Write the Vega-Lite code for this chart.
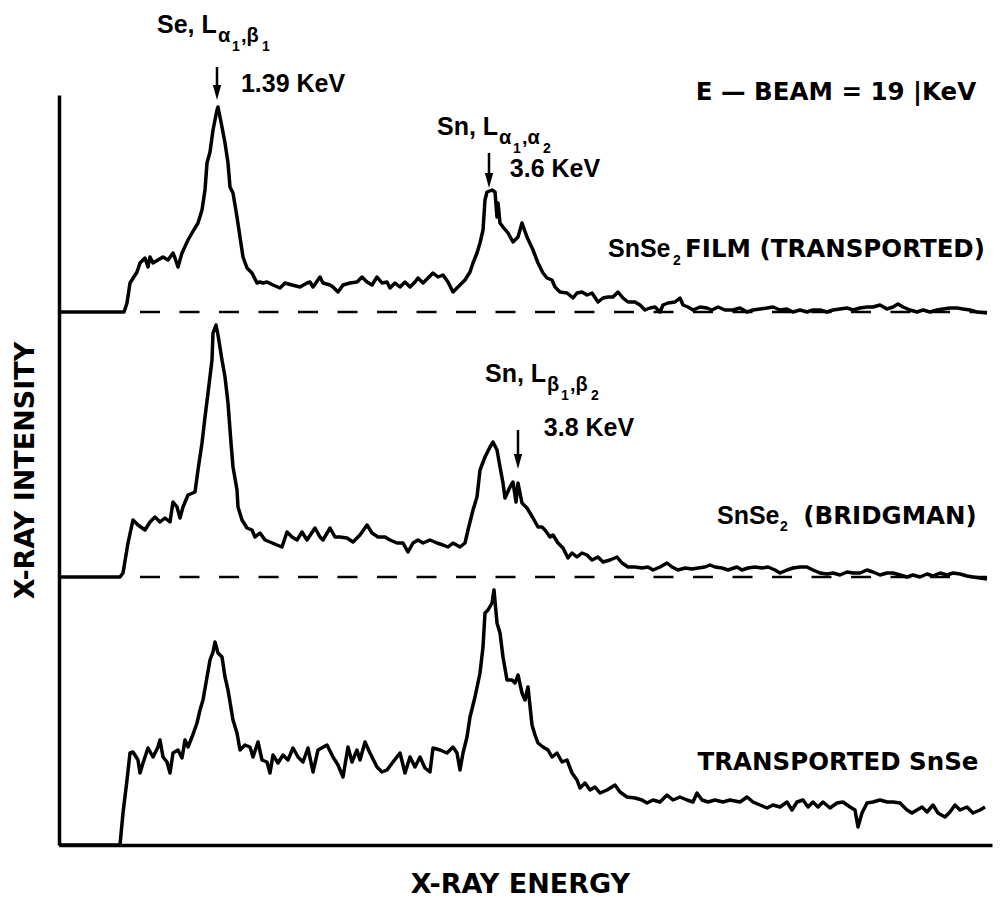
{
"$schema": "https://vega.github.io/schema/vega-lite/v6.json",
"width": 933, "height": 750,
"autosize": "none",
"padding": {"left": 59, "top": 95, "right": 8, "bottom": 53},
"background": "white",
"config": {"view": {"stroke": null}, "font": "Liberation Sans"},
"datasets": {
"spectra": [
{"series":"film","energy":59,"intensity":533},{"series":"film","energy":124,"intensity":533},{"series":"film","energy":127,"intensity":542},{"series":"film","energy":130,"intensity":562},{"series":"film","energy":137,"intensity":573},{"series":"film","energy":140,"intensity":582},{"series":"film","energy":145,"intensity":587},{"series":"film","energy":148,"intensity":578},{"series":"film","energy":150,"intensity":588},{"series":"film","energy":153,"intensity":582},{"series":"film","energy":158,"intensity":585},{"series":"film","energy":163,"intensity":588},{"series":"film","energy":168,"intensity":585},{"series":"film","energy":173,"intensity":592},{"series":"film","energy":175,"intensity":587},{"series":"film","energy":178,"intensity":578},{"series":"film","energy":182,"intensity":592},{"series":"film","energy":188,"intensity":605},{"series":"film","energy":192,"intensity":612},{"series":"film","energy":198,"intensity":622},{"series":"film","energy":202,"intensity":635},{"series":"film","energy":205,"intensity":655},{"series":"film","energy":207,"intensity":682},{"series":"film","energy":210,"intensity":693},{"series":"film","energy":213,"intensity":715},{"series":"film","energy":217,"intensity":735},{"series":"film","energy":218,"intensity":738},{"series":"film","energy":222,"intensity":718},{"series":"film","energy":225,"intensity":702},{"series":"film","energy":228,"intensity":682},{"series":"film","energy":230,"intensity":658},{"series":"film","energy":233,"intensity":652},{"series":"film","energy":237,"intensity":628},{"series":"film","energy":240,"intensity":608},{"series":"film","energy":243,"intensity":588},{"series":"film","energy":247,"intensity":577},{"series":"film","energy":252,"intensity":572},{"series":"film","energy":257,"intensity":562},{"series":"film","energy":260,"intensity":563},{"series":"film","energy":263,"intensity":562},{"series":"film","energy":267,"intensity":563},{"series":"film","energy":273,"intensity":560},{"series":"film","energy":280,"intensity":557},{"series":"film","energy":285,"intensity":562},{"series":"film","energy":292,"intensity":560},{"series":"film","energy":300,"intensity":558},{"series":"film","energy":307,"intensity":562},{"series":"film","energy":310,"intensity":563},{"series":"film","energy":313,"intensity":558},{"series":"film","energy":320,"intensity":568},{"series":"film","energy":323,"intensity":562},{"series":"film","energy":330,"intensity":560},{"series":"film","energy":333,"intensity":558},{"series":"film","energy":338,"intensity":553},{"series":"film","energy":343,"intensity":560},{"series":"film","energy":350,"intensity":562},{"series":"film","energy":357,"intensity":563},{"series":"film","energy":362,"intensity":568},{"series":"film","energy":367,"intensity":563},{"series":"film","energy":372,"intensity":560},{"series":"film","energy":377,"intensity":568},{"series":"film","energy":382,"intensity":562},{"series":"film","energy":387,"intensity":563},{"series":"film","energy":390,"intensity":557},{"series":"film","energy":395,"intensity":562},{"series":"film","energy":400,"intensity":558},{"series":"film","energy":405,"intensity":563},{"series":"film","energy":410,"intensity":558},{"series":"film","energy":415,"intensity":563},{"series":"film","energy":418,"intensity":567},{"series":"film","energy":423,"intensity":562},{"series":"film","energy":428,"intensity":567},{"series":"film","energy":433,"intensity":572},{"series":"film","energy":438,"intensity":568},{"series":"film","energy":443,"intensity":570},{"series":"film","energy":448,"intensity":563},{"series":"film","energy":453,"intensity":553},{"series":"film","energy":458,"intensity":558},{"series":"film","energy":465,"intensity":565},{"series":"film","energy":470,"intensity":573},{"series":"film","energy":473,"intensity":582},{"series":"film","energy":477,"intensity":592},{"series":"film","energy":480,"intensity":602},{"series":"film","energy":483,"intensity":615},{"series":"film","energy":485,"intensity":645},{"series":"film","energy":487,"intensity":653},{"series":"film","energy":492,"intensity":655},{"series":"film","energy":495,"intensity":653},{"series":"film","energy":497,"intensity":628},{"series":"film","energy":498,"intensity":642},{"series":"film","energy":500,"intensity":622},{"series":"film","energy":503,"intensity":618},{"series":"film","energy":508,"intensity":612},{"series":"film","energy":513,"intensity":603},{"series":"film","energy":518,"intensity":608},{"series":"film","energy":522,"intensity":622},{"series":"film","energy":527,"intensity":608},{"series":"film","energy":533,"intensity":595},{"series":"film","energy":538,"intensity":582},{"series":"film","energy":543,"intensity":572},{"series":"film","energy":547,"intensity":567},{"series":"film","energy":552,"intensity":565},{"series":"film","energy":555,"intensity":558},{"series":"film","energy":560,"intensity":553},{"series":"film","energy":567,"intensity":552},{"series":"film","energy":573,"intensity":547},{"series":"film","energy":577,"intensity":552},{"series":"film","energy":582,"intensity":553},{"series":"film","energy":587,"intensity":550},{"series":"film","energy":592,"intensity":552},{"series":"film","energy":598,"intensity":543},{"series":"film","energy":603,"intensity":547},{"series":"film","energy":608,"intensity":548},{"series":"film","energy":613,"intensity":548},{"series":"film","energy":618,"intensity":553},{"series":"film","energy":623,"intensity":547},{"series":"film","energy":628,"intensity":543},{"series":"film","energy":635,"intensity":543},{"series":"film","energy":640,"intensity":540},{"series":"film","energy":645,"intensity":535},{"series":"film","energy":650,"intensity":537},{"series":"film","energy":655,"intensity":538},{"series":"film","energy":660,"intensity":533},{"series":"film","energy":663,"intensity":540},{"series":"film","energy":668,"intensity":542},{"series":"film","energy":675,"intensity":543},{"series":"film","energy":680,"intensity":547},{"series":"film","energy":683,"intensity":540},{"series":"film","energy":688,"intensity":538},{"series":"film","energy":693,"intensity":535},{"series":"film","energy":700,"intensity":538},{"series":"film","energy":707,"intensity":537},{"series":"film","energy":712,"intensity":535},{"series":"film","energy":718,"intensity":538},{"series":"film","energy":725,"intensity":535},{"series":"film","energy":733,"intensity":535},{"series":"film","energy":740,"intensity":537},{"series":"film","energy":747,"intensity":533},{"series":"film","energy":753,"intensity":535},{"series":"film","energy":760,"intensity":536},{"series":"film","energy":767,"intensity":537},{"series":"film","energy":773,"intensity":538},{"series":"film","energy":780,"intensity":535},{"series":"film","energy":787,"intensity":536},{"series":"film","energy":793,"intensity":533},{"series":"film","energy":800,"intensity":535},{"series":"film","energy":807,"intensity":533},{"series":"film","energy":813,"intensity":535},{"series":"film","energy":820,"intensity":535},{"series":"film","energy":827,"intensity":533},{"series":"film","energy":833,"intensity":535},{"series":"film","energy":840,"intensity":536},{"series":"film","energy":847,"intensity":537},{"series":"film","energy":853,"intensity":535},{"series":"film","energy":860,"intensity":537},{"series":"film","energy":867,"intensity":538},{"series":"film","energy":873,"intensity":538},{"series":"film","energy":880,"intensity":540},{"series":"film","energy":887,"intensity":536},{"series":"film","energy":893,"intensity":538},{"series":"film","energy":898,"intensity":541},{"series":"film","energy":903,"intensity":538},{"series":"film","energy":910,"intensity":535},{"series":"film","energy":917,"intensity":533},{"series":"film","energy":923,"intensity":535},{"series":"film","energy":930,"intensity":533},{"series":"film","energy":937,"intensity":535},{"series":"film","energy":943,"intensity":536},{"series":"film","energy":950,"intensity":537},{"series":"film","energy":957,"intensity":537},{"series":"film","energy":963,"intensity":536},{"series":"film","energy":970,"intensity":535},{"series":"film","energy":977,"intensity":533},{"series":"film","energy":987,"intensity":532},
{"series":"bridgman","energy":59,"intensity":268},{"series":"bridgman","energy":120,"intensity":268},{"series":"bridgman","energy":123,"intensity":272},{"series":"bridgman","energy":128,"intensity":302},{"series":"bridgman","energy":133,"intensity":325},{"series":"bridgman","energy":138,"intensity":320},{"series":"bridgman","energy":145,"intensity":315},{"series":"bridgman","energy":150,"intensity":323},{"series":"bridgman","energy":155,"intensity":328},{"series":"bridgman","energy":160,"intensity":323},{"series":"bridgman","energy":165,"intensity":327},{"series":"bridgman","energy":170,"intensity":323},{"series":"bridgman","energy":173,"intensity":343},{"series":"bridgman","energy":177,"intensity":338},{"series":"bridgman","energy":180,"intensity":327},{"series":"bridgman","energy":183,"intensity":338},{"series":"bridgman","energy":188,"intensity":350},{"series":"bridgman","energy":195,"intensity":353},{"series":"bridgman","energy":198,"intensity":375},{"series":"bridgman","energy":202,"intensity":402},{"series":"bridgman","energy":205,"intensity":428},{"series":"bridgman","energy":208,"intensity":452},{"series":"bridgman","energy":212,"intensity":485},{"series":"bridgman","energy":213,"intensity":512},{"series":"bridgman","energy":216,"intensity":520},{"series":"bridgman","energy":218,"intensity":510},{"series":"bridgman","energy":222,"intensity":485},{"series":"bridgman","energy":225,"intensity":468},{"series":"bridgman","energy":228,"intensity":442},{"series":"bridgman","energy":231,"intensity":402},{"series":"bridgman","energy":233,"intensity":378},{"series":"bridgman","energy":237,"intensity":355},{"series":"bridgman","energy":238,"intensity":338},{"series":"bridgman","energy":242,"intensity":325},{"series":"bridgman","energy":247,"intensity":317},{"series":"bridgman","energy":252,"intensity":315},{"series":"bridgman","energy":255,"intensity":308},{"series":"bridgman","energy":260,"intensity":312},{"series":"bridgman","energy":265,"intensity":305},{"series":"bridgman","energy":270,"intensity":303},{"series":"bridgman","energy":277,"intensity":300},{"series":"bridgman","energy":282,"intensity":298},{"series":"bridgman","energy":287,"intensity":313},{"series":"bridgman","energy":292,"intensity":308},{"series":"bridgman","energy":297,"intensity":305},{"series":"bridgman","energy":302,"intensity":313},{"series":"bridgman","energy":307,"intensity":305},{"series":"bridgman","energy":315,"intensity":317},{"series":"bridgman","energy":320,"intensity":308},{"series":"bridgman","energy":323,"intensity":305},{"series":"bridgman","energy":330,"intensity":317},{"series":"bridgman","energy":335,"intensity":308},{"series":"bridgman","energy":340,"intensity":308},{"series":"bridgman","energy":347,"intensity":307},{"series":"bridgman","energy":353,"intensity":303},{"series":"bridgman","energy":360,"intensity":310},{"series":"bridgman","energy":367,"intensity":320},{"series":"bridgman","energy":372,"intensity":312},{"series":"bridgman","energy":378,"intensity":308},{"series":"bridgman","energy":385,"intensity":308},{"series":"bridgman","energy":390,"intensity":305},{"series":"bridgman","energy":397,"intensity":302},{"series":"bridgman","energy":403,"intensity":302},{"series":"bridgman","energy":408,"intensity":293},{"series":"bridgman","energy":413,"intensity":302},{"series":"bridgman","energy":418,"intensity":305},{"series":"bridgman","energy":423,"intensity":302},{"series":"bridgman","energy":430,"intensity":305},{"series":"bridgman","energy":437,"intensity":302},{"series":"bridgman","energy":443,"intensity":300},{"series":"bridgman","energy":448,"intensity":298},{"series":"bridgman","energy":453,"intensity":302},{"series":"bridgman","energy":460,"intensity":298},{"series":"bridgman","energy":465,"intensity":302},{"series":"bridgman","energy":468,"intensity":315},{"series":"bridgman","energy":473,"intensity":335},{"series":"bridgman","energy":477,"intensity":348},{"series":"bridgman","energy":480,"intensity":375},{"series":"bridgman","energy":485,"intensity":388},{"series":"bridgman","energy":490,"intensity":398},{"series":"bridgman","energy":493,"intensity":403},{"series":"bridgman","energy":497,"intensity":395},{"series":"bridgman","energy":500,"intensity":378},{"series":"bridgman","energy":503,"intensity":362},{"series":"bridgman","energy":505,"intensity":347},{"series":"bridgman","energy":510,"intensity":358},{"series":"bridgman","energy":513,"intensity":363},{"series":"bridgman","energy":516,"intensity":343},{"series":"bridgman","energy":518,"intensity":362},{"series":"bridgman","energy":522,"intensity":342},{"series":"bridgman","energy":527,"intensity":337},{"series":"bridgman","energy":533,"intensity":327},{"series":"bridgman","energy":538,"intensity":318},{"series":"bridgman","energy":542,"intensity":318},{"series":"bridgman","energy":545,"intensity":315},{"series":"bridgman","energy":550,"intensity":308},{"series":"bridgman","energy":553,"intensity":310},{"series":"bridgman","energy":558,"intensity":302},{"series":"bridgman","energy":563,"intensity":297},{"series":"bridgman","energy":568,"intensity":287},{"series":"bridgman","energy":572,"intensity":292},{"series":"bridgman","energy":577,"intensity":288},{"series":"bridgman","energy":582,"intensity":292},{"series":"bridgman","energy":587,"intensity":290},{"series":"bridgman","energy":592,"intensity":285},{"series":"bridgman","energy":598,"intensity":288},{"series":"bridgman","energy":603,"intensity":283},{"series":"bridgman","energy":610,"intensity":285},{"series":"bridgman","energy":617,"intensity":288},{"series":"bridgman","energy":622,"intensity":282},{"series":"bridgman","energy":628,"intensity":278},{"series":"bridgman","energy":635,"intensity":278},{"series":"bridgman","energy":642,"intensity":277},{"series":"bridgman","energy":648,"intensity":278},{"series":"bridgman","energy":653,"intensity":275},{"series":"bridgman","energy":660,"intensity":278},{"series":"bridgman","energy":667,"intensity":282},{"series":"bridgman","energy":672,"intensity":278},{"series":"bridgman","energy":678,"intensity":275},{"series":"bridgman","energy":685,"intensity":277},{"series":"bridgman","energy":692,"intensity":276},{"series":"bridgman","energy":698,"intensity":277},{"series":"bridgman","energy":705,"intensity":278},{"series":"bridgman","energy":710,"intensity":280},{"series":"bridgman","energy":715,"intensity":278},{"series":"bridgman","energy":722,"intensity":277},{"series":"bridgman","energy":728,"intensity":275},{"series":"bridgman","energy":737,"intensity":278},{"series":"bridgman","energy":742,"intensity":275},{"series":"bridgman","energy":748,"intensity":277},{"series":"bridgman","energy":755,"intensity":278},{"series":"bridgman","energy":762,"intensity":277},{"series":"bridgman","energy":768,"intensity":278},{"series":"bridgman","energy":775,"intensity":275},{"series":"bridgman","energy":780,"intensity":272},{"series":"bridgman","energy":787,"intensity":275},{"series":"bridgman","energy":793,"intensity":277},{"series":"bridgman","energy":800,"intensity":278},{"series":"bridgman","energy":807,"intensity":278},{"series":"bridgman","energy":813,"intensity":275},{"series":"bridgman","energy":820,"intensity":272},{"series":"bridgman","energy":827,"intensity":271},{"series":"bridgman","energy":833,"intensity":272},{"series":"bridgman","energy":840,"intensity":270},{"series":"bridgman","energy":847,"intensity":273},{"series":"bridgman","energy":853,"intensity":272},{"series":"bridgman","energy":860,"intensity":272},{"series":"bridgman","energy":867,"intensity":275},{"series":"bridgman","energy":873,"intensity":273},{"series":"bridgman","energy":880,"intensity":270},{"series":"bridgman","energy":887,"intensity":272},{"series":"bridgman","energy":893,"intensity":272},{"series":"bridgman","energy":900,"intensity":270},{"series":"bridgman","energy":907,"intensity":268},{"series":"bridgman","energy":913,"intensity":270},{"series":"bridgman","energy":920,"intensity":268},{"series":"bridgman","energy":927,"intensity":271},{"series":"bridgman","energy":933,"intensity":269},{"series":"bridgman","energy":940,"intensity":272},{"series":"bridgman","energy":947,"intensity":270},{"series":"bridgman","energy":953,"intensity":272},{"series":"bridgman","energy":960,"intensity":271},{"series":"bridgman","energy":967,"intensity":269},{"series":"bridgman","energy":973,"intensity":268},{"series":"bridgman","energy":980,"intensity":267},{"series":"bridgman","energy":987,"intensity":266},
{"series":"snse","energy":59,"intensity":0},{"series":"snse","energy":120,"intensity":0},{"series":"snse","energy":123,"intensity":32},{"series":"snse","energy":127,"intensity":65},{"series":"snse","energy":130,"intensity":92},{"series":"snse","energy":133,"intensity":93},{"series":"snse","energy":138,"intensity":85},{"series":"snse","energy":140,"intensity":72},{"series":"snse","energy":143,"intensity":82},{"series":"snse","energy":148,"intensity":97},{"series":"snse","energy":153,"intensity":88},{"series":"snse","energy":158,"intensity":98},{"series":"snse","energy":160,"intensity":105},{"series":"snse","energy":163,"intensity":88},{"series":"snse","energy":167,"intensity":83},{"series":"snse","energy":170,"intensity":72},{"series":"snse","energy":173,"intensity":92},{"series":"snse","energy":178,"intensity":95},{"series":"snse","energy":182,"intensity":87},{"series":"snse","energy":185,"intensity":105},{"series":"snse","energy":188,"intensity":98},{"series":"snse","energy":192,"intensity":108},{"series":"snse","energy":197,"intensity":122},{"series":"snse","energy":200,"intensity":135},{"series":"snse","energy":203,"intensity":145},{"series":"snse","energy":207,"intensity":168},{"series":"snse","energy":210,"intensity":185},{"series":"snse","energy":213,"intensity":193},{"series":"snse","energy":215,"intensity":203},{"series":"snse","energy":218,"intensity":192},{"series":"snse","energy":222,"intensity":188},{"series":"snse","energy":225,"intensity":168},{"series":"snse","energy":228,"intensity":155},{"series":"snse","energy":233,"intensity":125},{"series":"snse","energy":237,"intensity":112},{"series":"snse","energy":240,"intensity":95},{"series":"snse","energy":245,"intensity":100},{"series":"snse","energy":250,"intensity":98},{"series":"snse","energy":253,"intensity":88},{"series":"snse","energy":258,"intensity":103},{"series":"snse","energy":262,"intensity":85},{"series":"snse","energy":267,"intensity":83},{"series":"snse","energy":270,"intensity":72},{"series":"snse","energy":273,"intensity":90},{"series":"snse","energy":278,"intensity":82},{"series":"snse","energy":283,"intensity":90},{"series":"snse","energy":288,"intensity":85},{"series":"snse","energy":293,"intensity":97},{"series":"snse","energy":298,"intensity":88},{"series":"snse","energy":303,"intensity":83},{"series":"snse","energy":308,"intensity":97},{"series":"snse","energy":313,"intensity":73},{"series":"snse","energy":318,"intensity":95},{"series":"snse","energy":327,"intensity":100},{"series":"snse","energy":333,"intensity":88},{"series":"snse","energy":338,"intensity":80},{"series":"snse","energy":343,"intensity":68},{"series":"snse","energy":348,"intensity":98},{"series":"snse","energy":352,"intensity":83},{"series":"snse","energy":357,"intensity":95},{"series":"snse","energy":360,"intensity":85},{"series":"snse","energy":365,"intensity":103},{"series":"snse","energy":370,"intensity":92},{"series":"snse","energy":377,"intensity":78},{"series":"snse","energy":382,"intensity":73},{"series":"snse","energy":387,"intensity":75},{"series":"snse","energy":393,"intensity":83},{"series":"snse","energy":400,"intensity":92},{"series":"snse","energy":405,"intensity":72},{"series":"snse","energy":410,"intensity":88},{"series":"snse","energy":415,"intensity":78},{"series":"snse","energy":420,"intensity":88},{"series":"snse","energy":425,"intensity":77},{"series":"snse","energy":430,"intensity":73},{"series":"snse","energy":433,"intensity":97},{"series":"snse","energy":440,"intensity":95},{"series":"snse","energy":447,"intensity":92},{"series":"snse","energy":453,"intensity":98},{"series":"snse","energy":457,"intensity":92},{"series":"snse","energy":460,"intensity":75},{"series":"snse","energy":463,"intensity":92},{"series":"snse","energy":467,"intensity":108},{"series":"snse","energy":470,"intensity":128},{"series":"snse","energy":475,"intensity":148},{"series":"snse","energy":480,"intensity":172},{"series":"snse","energy":483,"intensity":198},{"series":"snse","energy":485,"intensity":232},{"series":"snse","energy":488,"intensity":235},{"series":"snse","energy":492,"intensity":242},{"series":"snse","energy":494,"intensity":255},{"series":"snse","energy":497,"intensity":222},{"series":"snse","energy":500,"intensity":212},{"series":"snse","energy":503,"intensity":188},{"series":"snse","energy":507,"intensity":165},{"series":"snse","energy":512,"intensity":165},{"series":"snse","energy":515,"intensity":162},{"series":"snse","energy":518,"intensity":170},{"series":"snse","energy":522,"intensity":152},{"series":"snse","energy":525,"intensity":145},{"series":"snse","energy":528,"intensity":158},{"series":"snse","energy":532,"intensity":120},{"series":"snse","energy":535,"intensity":110},{"series":"snse","energy":538,"intensity":102},{"series":"snse","energy":543,"intensity":98},{"series":"snse","energy":548,"intensity":95},{"series":"snse","energy":552,"intensity":88},{"series":"snse","energy":557,"intensity":92},{"series":"snse","energy":562,"intensity":83},{"series":"snse","energy":567,"intensity":85},{"series":"snse","energy":572,"intensity":72},{"series":"snse","energy":577,"intensity":65},{"series":"snse","energy":580,"intensity":57},{"series":"snse","energy":585,"intensity":62},{"series":"snse","energy":590,"intensity":55},{"series":"snse","energy":595,"intensity":58},{"series":"snse","energy":600,"intensity":52},{"series":"snse","energy":607,"intensity":55},{"series":"snse","energy":615,"intensity":60},{"series":"snse","energy":620,"intensity":53},{"series":"snse","energy":627,"intensity":48},{"series":"snse","energy":635,"intensity":47},{"series":"snse","energy":642,"intensity":45},{"series":"snse","energy":647,"intensity":42},{"series":"snse","energy":653,"intensity":45},{"series":"snse","energy":660,"intensity":43},{"series":"snse","energy":667,"intensity":50},{"series":"snse","energy":673,"intensity":45},{"series":"snse","energy":680,"intensity":48},{"series":"snse","energy":687,"intensity":45},{"series":"snse","energy":693,"intensity":43},{"series":"snse","energy":697,"intensity":52},{"series":"snse","energy":702,"intensity":45},{"series":"snse","energy":708,"intensity":43},{"series":"snse","energy":715,"intensity":45},{"series":"snse","energy":723,"intensity":43},{"series":"snse","energy":730,"intensity":45},{"series":"snse","energy":740,"intensity":43},{"series":"snse","energy":747,"intensity":48},{"series":"snse","energy":753,"intensity":43},{"series":"snse","energy":760,"intensity":40},{"series":"snse","energy":767,"intensity":37},{"series":"snse","energy":773,"intensity":40},{"series":"snse","energy":780,"intensity":38},{"series":"snse","energy":787,"intensity":43},{"series":"snse","energy":792,"intensity":35},{"series":"snse","energy":797,"intensity":43},{"series":"snse","energy":803,"intensity":45},{"series":"snse","energy":808,"intensity":38},{"series":"snse","energy":813,"intensity":43},{"series":"snse","energy":818,"intensity":38},{"series":"snse","energy":823,"intensity":43},{"series":"snse","energy":830,"intensity":37},{"series":"snse","energy":837,"intensity":42},{"series":"snse","energy":843,"intensity":43},{"series":"snse","energy":850,"intensity":38},{"series":"snse","energy":855,"intensity":35},{"series":"snse","energy":858,"intensity":18},{"series":"snse","energy":862,"intensity":32},{"series":"snse","energy":867,"intensity":42},{"series":"snse","energy":873,"intensity":43},{"series":"snse","energy":880,"intensity":45},{"series":"snse","energy":887,"intensity":43},{"series":"snse","energy":893,"intensity":43},{"series":"snse","energy":900,"intensity":42},{"series":"snse","energy":907,"intensity":35},{"series":"snse","energy":912,"intensity":32},{"series":"snse","energy":917,"intensity":35},{"series":"snse","energy":922,"intensity":38},{"series":"snse","energy":927,"intensity":33},{"series":"snse","energy":933,"intensity":40},{"series":"snse","energy":938,"intensity":32},{"series":"snse","energy":945,"intensity":28},{"series":"snse","energy":950,"intensity":33},{"series":"snse","energy":955,"intensity":40},{"series":"snse","energy":960,"intensity":35},{"series":"snse","energy":967,"intensity":38},{"series":"snse","energy":973,"intensity":32},{"series":"snse","energy":980,"intensity":35},{"series":"snse","energy":985,"intensity":38}
],
"baselines": [
{"series":"film","energy":140,"intensity":533},{"series":"film","energy":987,"intensity":533},
{"series":"bridgman","energy":140,"intensity":268},{"series":"bridgman","energy":987,"intensity":268}
],
"arrows": [
{"line":"Se","energy":217,"intensity":778,"intensity2":757,"tip":752.5},
{"line":"Sn alpha","energy":489,"intensity":692,"intensity2":669,"tip":664.5},
{"line":"Sn beta","energy":518,"intensity":415,"intensity2":387,"tip":383.5}
],
"labelsLeft": [
{"label":"Se, L","energy":157,"intensity":812},
{"label":"Sn, L","energy":437,"intensity":710},
{"label":"Sn, L","energy":485,"intensity":463},
{"label":"SnSe","energy":608,"intensity":588},
{"label":"SnSe","energy":717,"intensity":321}
],
"labelsNumbers": [
{"label":"1.39 KeV","energy":293,"intensity":753},
{"label":"3.6 KeV","energy":555,"intensity":668},
{"label":"3.8 KeV","energy":589,"intensity":409}
],
"labelsWords": [
{"label":"E — BEAM = 19 |KeV","energy":836,"intensity":745},
{"label":"FILM (TRANSPORTED)","energy":835,"intensity":588},
{"label":"(BRIDGMAN)","energy":890,"intensity":321},
{"label":"TRANSPORTED SnSe","energy":838,"intensity":75}
],
"subGreek": [
{"label":"α","energy":218,"intensity":803},
{"label":",β","energy":241,"intensity":803},
{"label":"α","energy":499,"intensity":701},
{"label":",α","energy":522,"intensity":701},
{"label":"β","energy":547,"intensity":454},
{"label":",β","energy":570,"intensity":454}
],
"subDigits": [
{"label":"1","energy":232,"intensity":794},
{"label":"1","energy":262,"intensity":794},
{"label":"1","energy":513,"intensity":692},
{"label":"2","energy":543,"intensity":692},
{"label":"1","energy":561,"intensity":445},
{"label":"2","energy":591,"intensity":445},
{"label":"2","energy":673,"intensity":580},
{"label":"2","energy":780,"intensity":314}
]
},
"layer": [
{"data": {"name": "spectra"},
 "mark": {"type": "line", "color": "black", "strokeWidth": 3.5, "strokeJoin": "round"},
 "encoding": {
  "x": {"field": "energy", "type": "quantitative", "scale": {"domain": [59, 992], "nice": false, "zero": false},
        "axis": {"title": "X-RAY ENERGY", "ticks": false, "labels": false, "grid": false, "domainColor": "black", "domainWidth": 3.5,
                 "titleFont": "DejaVu Sans", "titleFontWeight": "bold", "titleFontSize": 27, "titleColor": "black",
                 "titleX": 461, "titleY": 47, "titleAlign": "center", "titleBaseline": "alphabetic"}},
  "y": {"field": "intensity", "type": "quantitative", "scale": {"domain": [0, 750], "nice": false, "zero": false},
        "axis": {"title": "X-RAY INTENSITY", "ticks": false, "labels": false, "grid": false, "domainColor": "black", "domainWidth": 3.5,
                 "titleFont": "DejaVu Sans", "titleFontWeight": "bold", "titleFontSize": 27, "titleColor": "black",
                 "titleX": -26, "titleY": 375, "titleAngle": 270, "titleAlign": "center", "titleBaseline": "alphabetic"}},
  "detail": {"field": "series"}
 }},
{"data": {"name": "baselines"},
 "mark": {"type": "line", "color": "black", "strokeWidth": 2.5, "strokeDash": [20, 19.5]},
 "encoding": {
  "x": {"field": "energy", "type": "quantitative"},
  "y": {"field": "intensity", "type": "quantitative"},
  "detail": {"field": "series"}
 }},
{"data": {"name": "arrows"},
 "mark": {"type": "rule", "color": "black", "strokeWidth": 2.5},
 "encoding": {
  "x": {"field": "energy", "type": "quantitative"},
  "y": {"field": "intensity", "type": "quantitative"},
  "y2": {"field": "intensity2"}
 }},
{"data": {"name": "arrows"},
 "mark": {"type": "point", "shape": "M-0.55,-1L0.55,-1L0,1Z", "size": 225, "filled": true, "color": "black", "opacity": 1},
 "encoding": {
  "x": {"field": "energy", "type": "quantitative"},
  "y": {"field": "tip", "type": "quantitative"}
 }},
{"data": {"name": "labelsLeft"},
 "mark": {"type": "text", "font": "Liberation Sans", "fontWeight": "bold", "fontSize": 25, "align": "left", "baseline": "alphabetic", "color": "black"},
 "encoding": {
  "x": {"field": "energy", "type": "quantitative"},
  "y": {"field": "intensity", "type": "quantitative"},
  "text": {"field": "label"}
 }},
{"data": {"name": "labelsNumbers"},
 "mark": {"type": "text", "font": "Liberation Sans", "fontWeight": "bold", "fontSize": 25, "align": "center", "baseline": "alphabetic", "color": "black"},
 "encoding": {
  "x": {"field": "energy", "type": "quantitative"},
  "y": {"field": "intensity", "type": "quantitative"},
  "text": {"field": "label"}
 }},
{"data": {"name": "labelsWords"},
 "mark": {"type": "text", "font": "DejaVu Sans", "fontWeight": "bold", "fontSize": 24.5, "align": "center", "baseline": "alphabetic", "color": "black"},
 "encoding": {
  "x": {"field": "energy", "type": "quantitative"},
  "y": {"field": "intensity", "type": "quantitative"},
  "text": {"field": "label"}
 }},
{"data": {"name": "subGreek"},
 "mark": {"type": "text", "font": "Liberation Sans", "fontWeight": "bold", "fontSize": 20, "align": "left", "baseline": "alphabetic", "color": "black"},
 "encoding": {
  "x": {"field": "energy", "type": "quantitative"},
  "y": {"field": "intensity", "type": "quantitative"},
  "text": {"field": "label"}
 }},
{"data": {"name": "subDigits"},
 "mark": {"type": "text", "font": "Liberation Sans", "fontWeight": "bold", "fontSize": 14, "align": "left", "baseline": "alphabetic", "color": "black"},
 "encoding": {
  "x": {"field": "energy", "type": "quantitative"},
  "y": {"field": "intensity", "type": "quantitative"},
  "text": {"field": "label"}
 }}
]
}
